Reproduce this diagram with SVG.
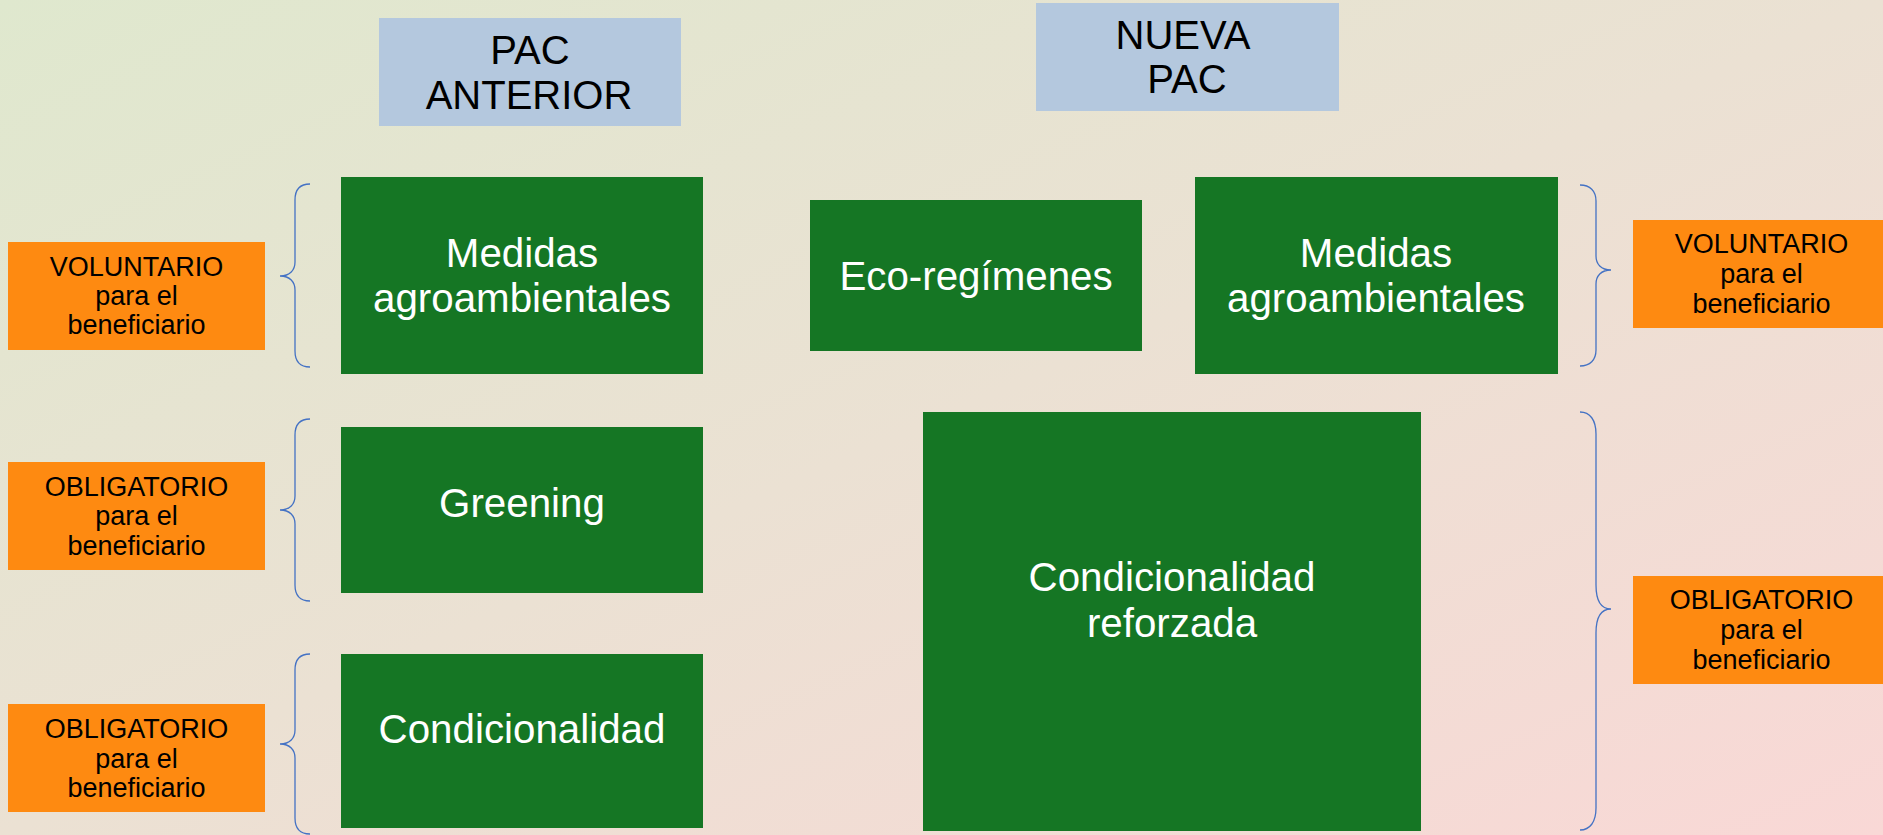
<svg xmlns="http://www.w3.org/2000/svg" width="1883" height="835" viewBox="0 0 1883 835">
  <defs>
    <linearGradient id="bg" x1="0" y1="0" x2="1" y2="1">
      <stop offset="0" stop-color="#dfe8ce"/>
      <stop offset="0.5" stop-color="#ebe1d3"/>
      <stop offset="1" stop-color="#f9d8d6"/>
    </linearGradient>
  </defs>
  <style>
    .title { fill: #b4c8de; }
    .green { fill: #157624; }
    .orange { fill: #fe8a11; }
    .ttxt { font-family: "Liberation Sans", Arial, sans-serif; font-size: 40px; fill: #000; text-anchor: middle; }
    .gtxt { font-family: "Liberation Sans", Arial, sans-serif; font-size: 40.3px; fill: #fff; text-anchor: middle; }
    .otxt { font-family: "Liberation Sans", Arial, sans-serif; font-size: 27px; fill: #000; text-anchor: middle; }
    .brace { fill: none; stroke: #4472c4; stroke-width: 1.3; }
  </style>
  <rect x="0" y="0" width="1883" height="835" fill="url(#bg)"/>

  <g id="title-anterior">
    <rect class="title" x="379" y="18" width="302" height="108"/>
    <text class="ttxt" x="530" y="64">PAC</text>
    <text class="ttxt" x="529" y="109">ANTERIOR</text>
  </g>
  <g id="title-nueva">
    <rect class="title" x="1036" y="3" width="303" height="108"/>
    <text class="ttxt" x="1183" y="49">NUEVA</text>
    <text class="ttxt" x="1187" y="93">PAC</text>
  </g>

  <g id="medidas-anterior">
    <rect class="green" x="341" y="177" width="362" height="197"/>
    <text class="gtxt" x="522" y="267">Medidas</text>
    <text class="gtxt" x="522" y="312">agroambientales</text>
  </g>
  <g id="greening">
    <rect class="green" x="341" y="427" width="362" height="166"/>
    <text class="gtxt" x="522" y="517">Greening</text>
  </g>
  <g id="condicionalidad">
    <rect class="green" x="341" y="654" width="362" height="174"/>
    <text class="gtxt" x="522" y="743">Condicionalidad</text>
  </g>

  <g id="eco-regimenes">
    <rect class="green" x="810" y="200" width="332" height="151"/>
    <text class="gtxt" x="976" y="290">Eco-regímenes</text>
  </g>
  <g id="medidas-nueva">
    <rect class="green" x="1195" y="177" width="363" height="197"/>
    <text class="gtxt" x="1376" y="267">Medidas</text>
    <text class="gtxt" x="1376" y="312">agroambientales</text>
  </g>
  <g id="condicionalidad-reforzada">
    <rect class="green" x="923" y="412" width="498" height="419"/>
    <text class="gtxt" x="1172" y="591">Condicionalidad</text>
    <text class="gtxt" x="1172" y="637">reforzada</text>
  </g>

  <g id="voluntario-izq">
    <rect class="orange" x="8" y="242" width="257" height="108"/>
    <text class="otxt" x="136.5" y="276">VOLUNTARIO</text>
    <text class="otxt" x="136.5" y="305">para el</text>
    <text class="otxt" x="136.5" y="334">beneficiario</text>
  </g>
  <g id="obligatorio-izq-1">
    <rect class="orange" x="8" y="462" width="257" height="108"/>
    <text class="otxt" x="136.5" y="496">OBLIGATORIO</text>
    <text class="otxt" x="136.5" y="525">para el</text>
    <text class="otxt" x="136.5" y="555">beneficiario</text>
  </g>
  <g id="obligatorio-izq-2">
    <rect class="orange" x="8" y="704" width="257" height="108"/>
    <text class="otxt" x="136.5" y="738">OBLIGATORIO</text>
    <text class="otxt" x="136.5" y="768">para el</text>
    <text class="otxt" x="136.5" y="797">beneficiario</text>
  </g>
  <g id="voluntario-der">
    <rect class="orange" x="1633" y="220" width="257" height="108"/>
    <text class="otxt" x="1761.5" y="253">VOLUNTARIO</text>
    <text class="otxt" x="1761.5" y="283">para el</text>
    <text class="otxt" x="1761.5" y="313">beneficiario</text>
  </g>
  <g id="obligatorio-der">
    <rect class="orange" x="1633" y="576" width="257" height="108"/>
    <text class="otxt" x="1761.5" y="609">OBLIGATORIO</text>
    <text class="otxt" x="1761.5" y="639">para el</text>
    <text class="otxt" x="1761.5" y="669">beneficiario</text>
  </g>

  <g id="connectors">
    <path class="brace" d="M310,184 C300,184 295,190 295,200 L295,262 C295,270 290,276 280,276 C290,276 295,282 295,290 L295,351 C295,361 300,367 310,367"/>
    <path class="brace" d="M310,419 C300,419 295,425 295,435 L295,496 C295,504 290,510 280,510 C290,510 295,516 295,524 L295,585 C295,595 300,601 310,601"/>
    <path class="brace" d="M310,654 C300,654 295,660 295,670 L295,730 C295,738 290,744 280,744 C290,744 295,750 295,758 L295,818 C295,828 300,834 310,834"/>
    <path class="brace" d="M1580,185 C1590,185 1596,191 1596,201 L1596,256 C1596,264 1601,270 1611,270 C1601,270 1596,276 1596,284 L1596,350 C1596,360 1590,366 1580,366"/>
    <path class="brace" d="M1580,412 C1590,412 1596,420 1596,434 L1596,585 C1596,600 1601,609 1611,609 C1601,609 1596,618 1596,633 L1596,808 C1596,822 1590,830 1580,830"/>
  </g>
</svg>
